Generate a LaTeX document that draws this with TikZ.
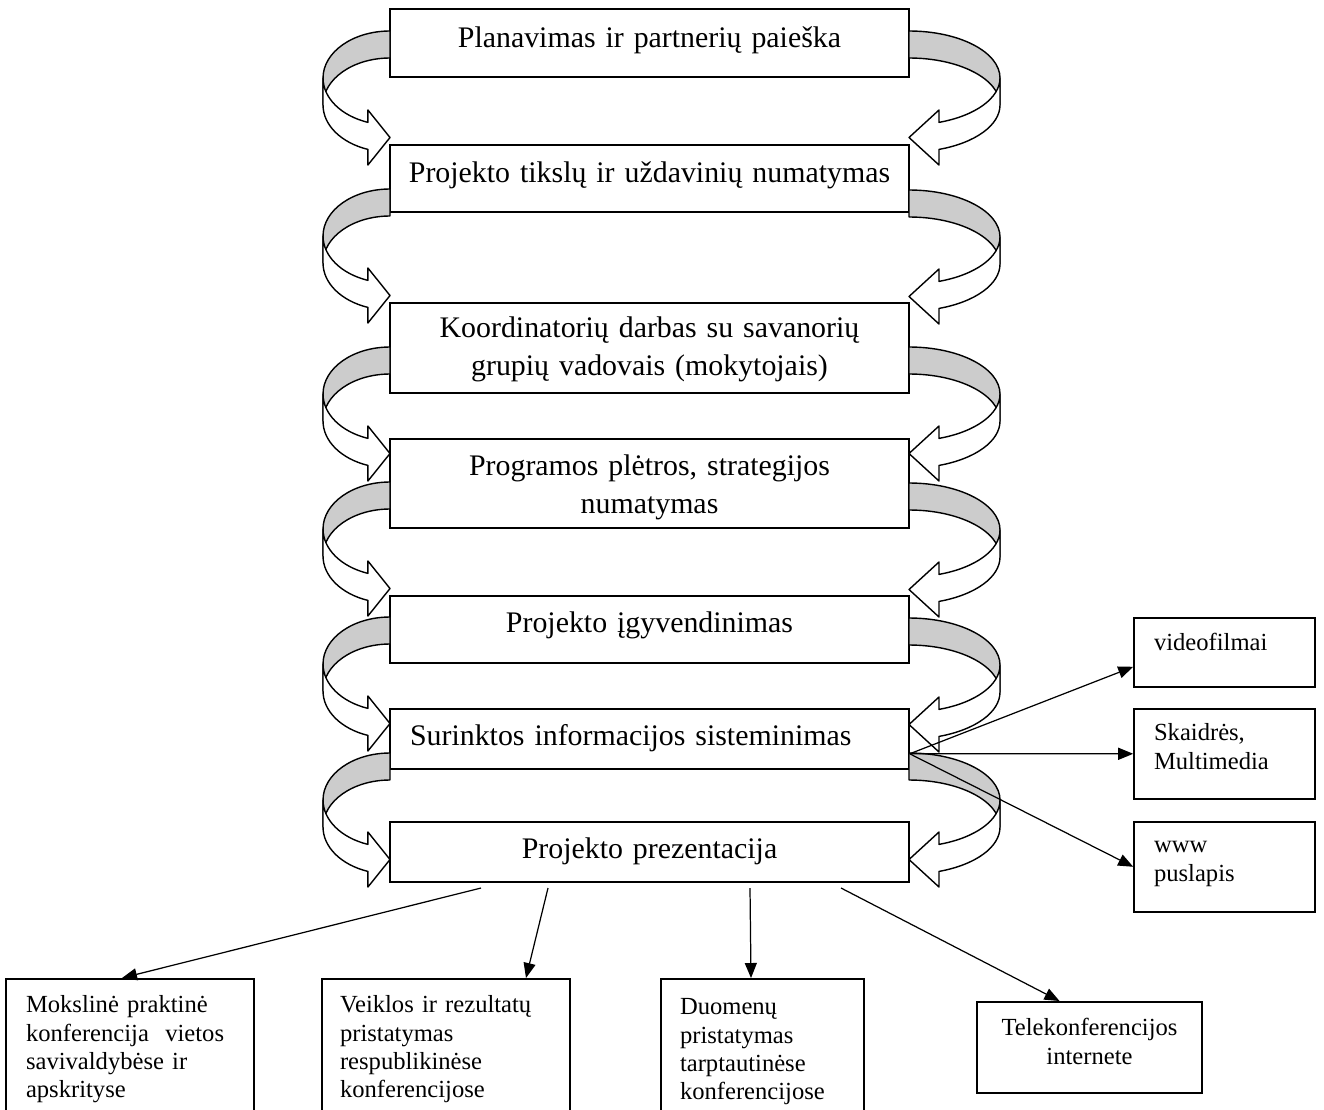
\documentclass[tikz,border=0pt]{standalone}
\usepackage{fontspec}
\usepackage{xcolor}
\setmainfont{Liberation Serif}
\newfontfamily\stagefont{Liberation Serif}
\newfontfamily\notefont{Liberation Serif}
\usetikzlibrary{arrows.meta}

\colorlet{curlgray}{gray!40}

% twisted ribbon arrow, #1 = top of the ribbon at the box edge, #2 = xscale
\newcommand{\curlarrow}[2]{%
  \begin{scope}[shift={#1}, xscale=#2]
    \draw[curl, fill=curlgray] (0,0) arc[start angle=90, end angle=0, x radius=91, y radius=47]
      -- ++(0,-27) arc[start angle=0, end angle=90, x radius=91, y radius=47] -- cycle;
    \draw[curl, fill=white] (91,-47) arc[start angle=0, end angle=-70.75, x radius=91, y radius=47]
      -- (30,-79) -- (0,-106.5) -- (30,-134) -- (30,-118.4)
      arc[start angle=-70.75, end angle=0, x radius=91, y radius=47] -- cycle;
  \end{scope}}

\begin{document}
\begin{tikzpicture}[x=0.02cm, y=0.02cm,
  stage/.style={draw, line width=0.9pt, anchor=north, text width=10.2cm, inner xsep=0.09cm,
    inner ysep=0pt, align=center, text height=0.74cm,
    font=\stagefont\fontsize{17}{21.6}\selectfont},
  note/.style={draw, line width=0.9pt, anchor=north, inner ysep=0pt, align=left,
    font=\notefont\fontsize{14}{16.1}\selectfont},
  curl/.style={line width=0.8pt, line join=round},
  link/.style={line width=0.7pt, -{Triangle[length=0.3cm,width=0.24cm]}}]

	\useasboundingbox (0,0) rectangle (1324,-1109);
	\clip (0,0) rectangle (1324,-1109);

	% main chain
	\node[stage, text height=0.78cm, text depth=0.58cm] (b1) at (649.5,-8) {Planavimas ir partnerių paieška};
	\node[stage, text height=0.76cm, text depth=0.58cm] (b2) at (649.5,-144) {Projekto tikslų ir uždavinių numatymas};
	\node[stage, text height=0.70cm, text depth=1.10cm] (b3) at (649.5,-302) {Koordinatorių darbas su savanorių\\grupių vadovais (mokytojais)};
	\node[stage, text depth=1.04cm] (b4) at (649.5,-438) {Programos plėtros, strategijos\\numatymas};
	\node[stage, text depth=0.60cm] (b5) at (649.5,-595) {Projekto įgyvendinimas};
	\node[stage, text depth=0.46cm, align=left, text width=9.58cm, inner xsep=0.4cm] (b6) at (649.5,-708) {Surinktos informacijos sisteminimas};
	\node[stage, text depth=0.46cm] (b7) at (649.5,-821) {Projekto prezentacija};

	% ribbons
	\foreach \y in {31,190,347,483,618,753} {\curlarrow{(909,-\y)}{1}}
	\foreach \y in {31,189,347,482,617,753} {\curlarrow{(390,-\y)}{-0.736}}

	% media
	\node[note, text width=2.82cm, inner xsep=0.4cm, text height=0.66cm, text depth=0.72cm] (v1) at (1224.5,-617) {videofilmai};
	\node[note, text width=2.82cm, inner xsep=0.4cm, text height=0.64cm, text depth=1.16cm] (v2) at (1224.5,-708) {Skaidrės,\\Multimedia};
	\node[note, text width=2.82cm, inner xsep=0.4cm, text height=0.62cm, text depth=1.18cm] (v3) at (1224.5,-821) {www\\puslapis};

	% conferences
	\node[note, text width=4.16cm, inner xsep=0.4cm, text height=0.68cm, text depth=2.12cm] (m1) at (130,-978) {Mokslinė praktinė\\konferencija~ vietos\\savivaldybėse ir\\apskrityse};
	\node[note, text width=4.24cm, inner xsep=0.36cm, text height=0.68cm, text depth=2.12cm] (m2) at (446,-978) {Veiklos ir rezultatų\\pristatymas\\respublikinėse\\konferencijose};
	\node[note, text width=3.3cm, inner xsep=0.38cm, text height=0.72cm, text depth=2.08cm] (m3) at (762.5,-978) {Duomenų\\pristatymas\\tarptautinėse\\konferencijose};
	\node[note, text width=4.1cm, inner xsep=0.2cm, align=center, text height=0.68cm, text depth=1.14cm] (m4) at (1089.5,-1001) {Telekonferencijos\\internete};

	\coordinate (hub) at ([yshift=-0.3cm]b6.east);
	\coordinate (o1) at (481,-888);
	\coordinate (o2) at (548,-888);
	\coordinate (o3) at (750,-888);
	\coordinate (o4) at (841,-888);

	\draw[link] (hub) -- ([yshift=-0.29cm]v1.west);
	\draw[link] (hub) -- (v2.west);
	\draw[link] (hub) -- (v3.west);

	\draw[link] (o1) -- ([xshift=-0.16cm]m1.north);
	\draw[link] (o2) -- ([xshift=1.6cm]m2.north);
	\draw[link] (o3) -- ([xshift=-0.23cm]m3.north);
	\draw[link] (o4) -- ([xshift=-0.6cm]m4.north);

\end{tikzpicture}
\end{document}
